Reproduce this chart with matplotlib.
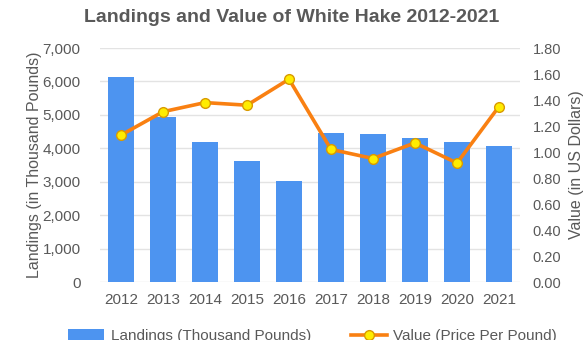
import matplotlib
matplotlib.use("Agg")
import matplotlib.pyplot as plt
from matplotlib.lines import Line2D
from matplotlib.patches import Patch

plt.rcParams['font.family'] = ['Liberation Sans', 'DejaVu Sans']

# Data
years = ['2012', '2013', '2014', '2015', '2016', '2017', '2018', '2019', '2020', '2021']
landings = [6120, 4950, 4180, 3630, 3020, 4460, 4420, 4300, 4190, 4060]
price = [1.13, 1.31, 1.38, 1.36, 1.56, 1.02, 0.95, 1.07, 0.915, 1.35]

bar_color = '#4d94f0'
line_color = '#f98012'
marker_face = '#ffec00'
marker_edge = '#d99a00'
text_gray = '#595959'

fig = plt.figure(figsize=(5.84, 3.40), dpi=100)
ax = fig.add_axes([100 / 584, 1 - 282 / 340, 420 / 584, 234 / 340])
ax2 = ax.twinx()

x = range(len(years))
ax.bar(x, landings, width=0.62, color=bar_color, zorder=2)
ax2.plot(x, price, color=line_color, linewidth=2.6, marker='o', markersize=7,
         markerfacecolor=marker_face, markeredgecolor=marker_edge,
         markeredgewidth=1.0, zorder=3)

ax.set_xlim(-0.5, len(years) - 0.5)
ax.set_ylim(0, 7000)
ax.set_yticks(range(0, 7001, 1000))
ax.set_yticklabels([f'{v:,}' for v in range(0, 7001, 1000)])
ax.set_xticks(list(x))
ax.set_xticklabels(years)

ax2.set_ylim(0, 1.8)
ax2.set_yticks([i * 0.2 for i in range(10)])
ax2.set_yticklabels([f'{i * 0.2:.2f}' for i in range(10)])

ax.grid(axis='y', color='#e3e3e3', linewidth=1.0, zorder=0)
ax.set_axisbelow(True)
for a in (ax, ax2):
    for s in a.spines.values():
        s.set_visible(False)
    a.tick_params(length=0, colors=text_gray, labelsize=11)
ax.tick_params(axis='y', pad=14)
ax2.tick_params(axis='y', pad=9, labelsize=10.5)
ax.tick_params(axis='x', pad=8)

ax.set_ylabel('Landings (in Thousand Pounds)', color=text_gray, fontsize=11.5)
ax2.set_ylabel('Value (in US Dollars)', color=text_gray, fontsize=11.5)
ax.yaxis.set_label_coords(-0.138, 0.5)
ax2.yaxis.set_label_coords(1.116, 0.5)

fig.text(0.5, 1 - 18 / 340, 'Landings and Value of White Hake 2012-2021',
         ha='center', va='center', fontsize=14, fontweight='bold', color=text_gray)

handles = [
    Patch(facecolor=bar_color, edgecolor='none'),
    Line2D([0], [0], color=line_color, linewidth=2.6, marker='o', markersize=7,
           markerfacecolor=marker_face, markeredgecolor=marker_edge),
]
fig.legend(handles, ['Landings (Thousand Pounds)', 'Value (Price Per Pound)'],
           loc='center', bbox_to_anchor=(0.535, 1 - 336 / 340), ncol=2, frameon=False,
           fontsize=11, labelcolor=text_gray, handlelength=2.4, handleheight=0.9,
           columnspacing=2.6, handletextpad=0.4)

fig.savefig('out.png', dpi=100)
